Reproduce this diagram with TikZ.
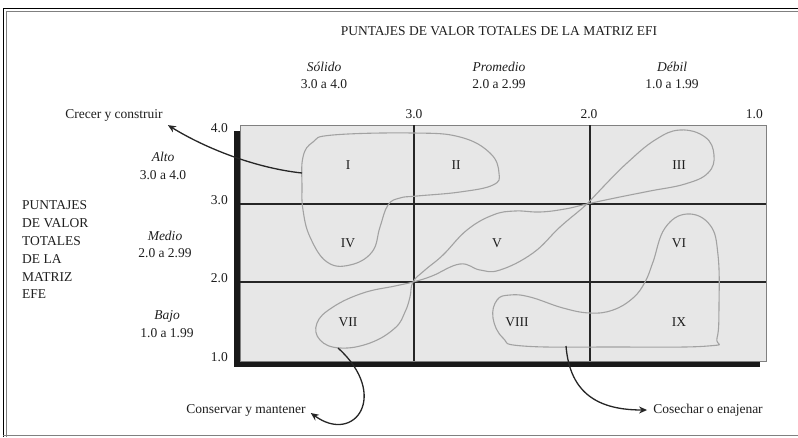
\documentclass[tikz,border=0pt]{standalone}
\usepackage{fontspec}
\setmainfont{Liberation Serif}
\usetikzlibrary{arrows.meta}
\definecolor{CellGray}{HTML}{E7E7E7}
\definecolor{BlobGray}{HTML}{A2A2A2}
\definecolor{InkDark}{HTML}{1E1E1E}

\begin{document}
\begin{tikzpicture}[x=1pt, y=-1pt,
  lbl/.style={font=\fontsize{13.5}{17.8}\selectfont, text=InkDark, inner sep=0pt},
  ilbl/.style={lbl, font=\fontsize{13.5}{17.8}\selectfont\itshape},
  gridline/.style={line width=1.3pt, black!85},
  blob/.style={BlobGray, line width=1.1pt},
  flow/.style={-{Stealth[length=8pt,width=7pt]}, line width=1.3pt, black!85}
]
\useasboundingbox (0,0) rectangle (798,437);
\draw[line width=1.6pt] (798,8.5) -- (3.5,8.5) -- (3.5,437);
\draw[line width=0.6pt, gray] (798,11.5) -- (6.5,11.5) -- (6.5,437);
\draw[line width=1.2pt, gray] (3,435.5) -- (798,435.5);

\fill[black!90] (234,131) rectangle (760,367);
\draw[fill=CellGray, draw=gray, line width=0.6pt] (240,125) rectangle (766,361);
\draw[gridline] (414,125) -- (414,361);
\draw[gridline] (590,125) -- (590,361);
\draw[gridline] (240,204) -- (766,204);
\draw[gridline] (240,282) -- (766,282);

\node[lbl] (efititle) at (499,31) {PUNTAJES DE VALOR TOTALES DE LA MATRIZ EFI};
\node[lbl, align=center] (solido) at (324,75.5) {\textit{Sólido}\\3.0 a 4.0};
\node[lbl, align=center] (promedio) at (499,75.5) {\textit{Promedio}\\2.0 a 2.99};
\node[lbl, align=center] (debil) at (672,75.5) {\textit{Débil}\\1.0 a 1.99};
\node[lbl, align=center] (alto) at (163,166) {\textit{Alto}\\3.0 a 4.0};
\node[lbl, align=center] (medio) at (165,244.5) {\textit{Medio}\\2.0 a 2.99};
\node[lbl, align=center] (bajo) at (167,324) {\textit{Bajo}\\1.0 a 1.99};
\node[lbl, align=left, anchor=west] (efe) at (22,250) {PUNTAJES\\DE VALOR\\TOTALES\\DE LA\\MATRIZ\\EFE};

\node[lbl, anchor=east] (y4) at (228,128) {4.0};
\node[lbl, anchor=east] (y3) at (228,200) {3.0};
\node[lbl, anchor=east] (y2) at (228,278) {2.0};
\node[lbl, anchor=east] (y1) at (228,357) {1.0};
\node[lbl] (x3) at (414,114) {3.0};
\node[lbl] (x2) at (589,114) {2.0};
\node[lbl, anchor=east] (x1) at (763,114) {1.0};

\node[lbl] (c1) at (348,165) {I};
\node[lbl] (c2) at (456,165) {II};
\node[lbl] (c3) at (679,165) {III};
\node[lbl] (c4) at (348,243) {IV};
\node[lbl] (c5) at (497,243) {V};
\node[lbl] (c6) at (679,243) {VI};
\node[lbl] (c7) at (348,322) {VII};
\node[lbl] (c8) at (517,322) {VIII};
\node[lbl] (c9) at (679,322) {IX};

\draw[blob] plot[smooth cycle, tension=0.7] coordinates {(302,187) (303,157) (313,142) (333,135) (413,133) (460,137) (490,153) (499,173) (493,185) (460,192) (417,196) (400,198) (388,205) (380,227) (372,252) (350,265) (327,262) (310,237) (303,210)};
\draw[blob] plot[smooth cycle, tension=0.7] coordinates {(680,130) (705,137) (714,155) (708,173) (685,184) (650,191) (615,198) (587,204) (565,209) (540,212) (515,211) (493,215) (467,230) (443,255) (425,270) (413,282) (410,297) (405,312) (395,328) (370,343) (340,348) (320,340) (317,323) (333,307) (363,293) (395,286) (413,282) (432,276) (460,264) (480,270) (500,270) (533,253) (560,227) (587,204) (603,187) (627,163) (655,140)};
\draw[blob] plot[smooth cycle, tension=0.7] coordinates {(687,214) (710,225) (718,255) (719,305) (717,338) (708,346) (613,347) (523,346) (503,338) (493,318) (497,300) (510,295) (530,297) (563,308) (590,313) (613,310) (633,298) (645,282) (653,262) (665,228)};

\node[lbl] (crecer) at (114,115) {Crecer y construir};
\node[lbl] (conservar) at (246,410) {Conservar y mantener};
\node[lbl] (cosechar) at (708,410) {Cosechar o enajenar};
\coordinate (growpt) at (302,173);
\coordinate (keeppt) at (338,348);
\coordinate (harvpt) at (566,346);
\draw[flow] (growpt) .. controls (255,168) and (205,148) .. ([xshift=5pt, yshift=-4pt]crecer.south east);
\draw[flow] (keeppt) .. controls (390,395) and (355,445) .. ([xshift=5pt, yshift=-3pt]conservar.east);
\draw[flow] (harvpt) .. controls (570,395) and (600,410) .. ([xshift=-6pt]cosechar.west);
\end{tikzpicture}
\end{document}
